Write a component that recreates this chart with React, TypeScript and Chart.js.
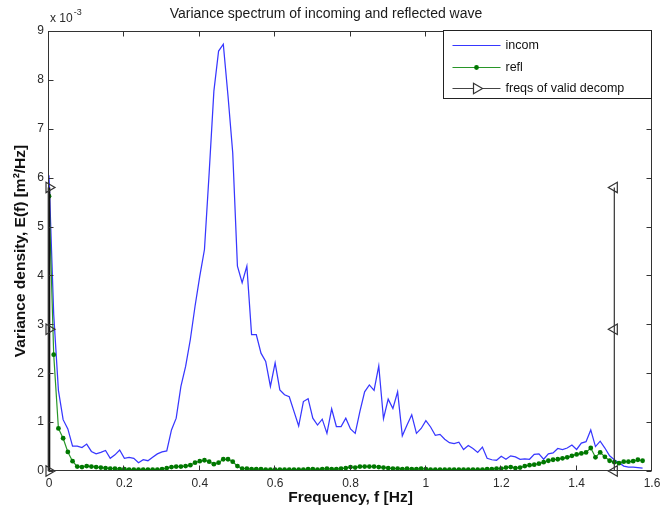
import React, { useEffect, useRef } from 'react';
import { Chart, registerables } from 'chart.js';

Chart.register(...registerables);

const FONT = '"Liberation Sans", Arial, Helvetica, sans-serif';

// Frequency bins [Hz]
const freq = [
  0, 0.0125, 0.025, 0.0375, 0.05, 0.0625, 0.075, 0.0875,
  0.1, 0.1125, 0.125, 0.1375, 0.15, 0.1625, 0.175, 0.1875,
  0.2, 0.2125, 0.225, 0.2375, 0.25, 0.2625, 0.275, 0.2875,
  0.3, 0.3125, 0.325, 0.3375, 0.35, 0.3625, 0.375, 0.3875,
  0.4, 0.4125, 0.425, 0.4375, 0.45, 0.4625, 0.475, 0.4875,
  0.5, 0.5125, 0.525, 0.5375, 0.55, 0.5625, 0.575, 0.5875,
  0.6, 0.6125, 0.625, 0.6375, 0.65, 0.6625, 0.675, 0.6875,
  0.7, 0.7125, 0.725, 0.7375, 0.75, 0.7625, 0.775, 0.7875,
  0.8, 0.8125, 0.825, 0.8375, 0.85, 0.8625, 0.875, 0.8875,
  0.9, 0.9125, 0.925, 0.9375, 0.95, 0.9625, 0.975, 0.9875,
  1.0, 1.0125, 1.025, 1.0375, 1.05, 1.0625, 1.075, 1.0875,
  1.1, 1.1125, 1.125, 1.1375, 1.15, 1.1625, 1.175, 1.1875,
  1.2, 1.2125, 1.225, 1.2375, 1.25, 1.2625, 1.275, 1.2875,
  1.3, 1.3125, 1.325, 1.3375, 1.35, 1.3625, 1.375, 1.3875,
  1.4, 1.4125, 1.425, 1.4375, 1.45, 1.4625, 1.475, 1.4875,
  1.5, 1.5125, 1.525, 1.5375, 1.55, 1.5625, 1.575,
];

// Incoming wave variance density (x 10^-3 m^2/Hz)
const incom = [
  6.05, 3.2, 1.65, 1.05, 0.86, 0.51, 0.51, 0.48,
  0.55, 0.40, 0.35, 0.38, 0.42, 0.26, 0.33, 0.43,
  0.26, 0.28, 0.26, 0.17, 0.23, 0.21, 0.28, 0.35,
  0.39, 0.41, 0.84, 1.08, 1.73, 2.14, 2.69, 3.37,
  3.98, 4.53, 6.10, 7.77, 8.59, 8.73, 7.67, 6.51,
  4.19, 3.85, 4.19, 2.79, 2.79, 2.41, 2.24, 1.73,
  2.21, 1.66, 1.56, 1.52, 1.22, 0.92, 1.42, 1.48,
  1.08, 0.94, 1.06, 0.77, 1.27, 0.91, 0.91, 1.08,
  0.86, 0.77, 1.22, 1.62, 1.76, 1.65, 2.15, 1.07,
  1.47, 1.28, 1.62, 0.72, 0.94, 1.15, 0.77, 0.87,
  1.03, 0.90, 0.73, 0.75, 0.65, 0.58, 0.56, 0.59,
  0.44, 0.52, 0.46, 0.38, 0.49, 0.26, 0.23, 0.22,
  0.30, 0.24, 0.31, 0.29, 0.24, 0.25, 0.24, 0.34,
  0.35, 0.24, 0.35, 0.37, 0.46, 0.44, 0.47, 0.53,
  0.44, 0.57, 0.60, 0.84, 0.50, 0.61, 0.47, 0.31,
  0.23, 0.17, 0.10, 0.08, 0.08, 0.07, 0.06,
];

// Reflected wave variance density (x 10^-3 m^2/Hz)
const refl = [
  5.62, 2.38, 0.87, 0.67, 0.39, 0.20, 0.09, 0.08,
  0.10, 0.09, 0.08, 0.07, 0.06, 0.05, 0.05, 0.04,
  0.04, 0.03, 0.03, 0.03, 0.03, 0.03, 0.03, 0.03,
  0.04, 0.06, 0.08, 0.09, 0.09, 0.10, 0.12, 0.17,
  0.20, 0.22, 0.19, 0.14, 0.17, 0.24, 0.24, 0.19,
  0.10, 0.05, 0.05, 0.04, 0.04, 0.04, 0.03, 0.03,
  0.03, 0.03, 0.03, 0.03, 0.03, 0.03, 0.03, 0.04,
  0.04, 0.03, 0.04, 0.05, 0.04, 0.04, 0.05, 0.06,
  0.08, 0.07, 0.09, 0.09, 0.09, 0.09, 0.08, 0.07,
  0.06, 0.05, 0.05, 0.04, 0.05, 0.04, 0.04, 0.05,
  0.04, 0.03, 0.03, 0.03, 0.03, 0.03, 0.03, 0.03,
  0.03, 0.03, 0.03, 0.03, 0.03, 0.04, 0.04, 0.05,
  0.05, 0.07, 0.08, 0.06, 0.07, 0.10, 0.12, 0.13,
  0.15, 0.18, 0.21, 0.23, 0.24, 0.26, 0.28, 0.31,
  0.34, 0.36, 0.38, 0.47, 0.28, 0.38, 0.29, 0.21,
  0.18, 0.16, 0.19, 0.19, 0.20, 0.23, 0.21,
];

// Limits of valid decomposition
const decompFreqs = [0, 1.5];
const decompLevels = [0, 2.9, 5.8];

const xTickLabels = ['0', '0.2', '0.4', '0.6', '0.8', '1', '1.2', '1.4', '1.6'];
const yTickLabels = ['0', '1', '2', '3', '4', '5', '6', '7', '8', '9'];
const legendLabels = ['incom', 'refl', 'freqs of valid decomp'];

const BLUE = 'rgb(55,55,255)';
const GREEN_LINE = 'rgb(40,150,40)';
const GREEN_DOT = 'rgb(0,120,0)';
const BLACK = '#111111';
const TICK_COLOR = '#2a2a2a';

function triangle(ctx: CanvasRenderingContext2D, x: number, y: number, r: number, dir: number) {
  ctx.beginPath();
  ctx.moveTo(x + dir * r, y);
  ctx.lineTo(x - dir * r * 0.5, y - r * 0.866);
  ctx.lineTo(x - dir * r * 0.5, y + r * 0.866);
  ctx.closePath();
  ctx.stroke();
}

const axesBox = {
  id: 'axesBox',
  afterDraw(chart: any) {
    const { ctx, chartArea: a, scales } = chart;
    const xs = scales.x;
    const ys = scales.y;
    ctx.save();
    ctx.strokeStyle = '#333333';
    ctx.lineWidth = 1;
    const L = Math.round(a.left) - 0.5;
    const R = Math.round(a.right) - 0.5;
    const T = Math.round(a.top) + 0.5;
    const B = Math.round(a.bottom) - 0.5;
    ctx.strokeRect(L, T, R - L, B - T);
    const tl = 5;
    ctx.beginPath();
    xs.ticks.forEach((t: any) => {
      const x = Math.round(xs.getPixelForValue(t.value)) - 0.5;
      ctx.moveTo(x, B);
      ctx.lineTo(x, B - tl);
      ctx.moveTo(x, T);
      ctx.lineTo(x, T + tl);
    });
    ys.ticks.forEach((t: any) => {
      const y = Math.round(ys.getPixelForValue(t.value)) + 0.5;
      ctx.moveTo(L, y);
      ctx.lineTo(L + tl, y);
      ctx.moveTo(R, y);
      ctx.lineTo(R - tl, y);
    });
    ctx.stroke();

    // exponent label
    ctx.fillStyle = TICK_COLOR;
    ctx.textBaseline = 'middle';
    ctx.textAlign = 'left';
    ctx.font = `12px ${FONT}`;
    const base = 'x 10';
    ctx.fillText(base, a.left + 1, a.top - 12);
    const w = ctx.measureText(base).width;
    ctx.font = `9px ${FONT}`;
    ctx.fillText('-3', a.left + 1 + w + 1, a.top - 18);

    // legend
    const lw = 208;
    const lh = 68;
    const lx = Math.round(a.right - lw) - 0.5;
    const ly = T - 1;
    ctx.fillStyle = '#ffffff';
    ctx.fillRect(lx, ly, lw, lh);
    ctx.strokeStyle = '#222222';
    ctx.lineWidth = 1;
    ctx.strokeRect(lx, ly, lw, lh);
    const rows = [ly + 15, ly + 37, ly + 58];
    const x0 = lx + 9;
    const x1 = lx + 57;
    const xm = (x0 + x1) / 2;
    ctx.strokeStyle = BLUE;
    ctx.lineWidth = 1.2;
    ctx.beginPath();
    ctx.moveTo(x0, rows[0]);
    ctx.lineTo(x1, rows[0]);
    ctx.stroke();
    ctx.strokeStyle = GREEN_LINE;
    ctx.beginPath();
    ctx.moveTo(x0, rows[1]);
    ctx.lineTo(x1, rows[1]);
    ctx.stroke();
    ctx.fillStyle = GREEN_DOT;
    ctx.beginPath();
    ctx.arc(xm, rows[1], 2.4, 0, Math.PI * 2);
    ctx.fill();
    ctx.strokeStyle = '#444444';
    ctx.lineWidth = 1;
    ctx.beginPath();
    ctx.moveTo(x0, rows[2]);
    ctx.lineTo(xm - 3, rows[2]);
    ctx.moveTo(xm + 6, rows[2]);
    ctx.lineTo(x1, rows[2]);
    ctx.stroke();
    ctx.strokeStyle = '#333333';
    ctx.lineWidth = 1.2;
    triangle(ctx, xm, rows[2], 6, 1);

    ctx.fillStyle = '#111111';
    ctx.font = `12.5px ${FONT}`;
    ctx.textBaseline = 'middle';
    legendLabels.forEach((lab, i) => {
      ctx.fillText(lab, lx + 62, rows[i]);
    });
    ctx.restore();
  },
};

export default function App() {
  const ref = useRef<HTMLCanvasElement | null>(null);

  useEffect(() => {
    if (!ref.current) return;
    const incomData = freq.map((f, i) => ({ x: f, y: incom[i] }));
    const reflData = freq.map((f, i) => ({ x: f, y: refl[i] }));
    const decompLeft = decompLevels.map((v) => ({ x: decompFreqs[0], y: v }));
    const decompRight = decompLevels.map((v) => ({ x: decompFreqs[1], y: v }));

    const chart = new Chart(ref.current, {
      type: 'line',
      data: {
        datasets: [
          {
            label: legendLabels[0],
            data: incomData,
            borderColor: BLUE,
            borderWidth: 1.25,
            pointRadius: 0,
            tension: 0,
            order: 3,
          },
          {
            label: legendLabels[1],
            data: reflData,
            borderColor: GREEN_LINE,
            borderWidth: 1.2,
            pointRadius: 2.4,
            pointBackgroundColor: GREEN_DOT,
            pointBorderWidth: 0,
            tension: 0,
            order: 2,
          },
          {
            label: legendLabels[2],
            data: decompLeft,
            borderColor: BLACK,
            borderWidth: 2.6,
            pointStyle: 'triangle',
            pointRotation: 90,
            pointRadius: 6,
            pointBackgroundColor: 'rgba(0,0,0,0)',
            pointBorderColor: '#333333',
            pointBorderWidth: 1.2,
            clip: false,
            order: 1,
          },
          {
            label: legendLabels[2] + ' ',
            data: decompRight,
            borderColor: '#333333',
            borderWidth: 1.2,
            pointStyle: 'triangle',
            pointRotation: -90,
            pointRadius: 6,
            pointBackgroundColor: 'rgba(0,0,0,0)',
            pointBorderColor: '#333333',
            pointBorderWidth: 1.2,
            clip: false,
            order: 1,
          },
        ] as any,
      },
      options: {
        animation: false,
        responsive: false,
        devicePixelRatio: 1,
        layout: { padding: { left: 0, right: 8, top: 0, bottom: 0 } },
        plugins: {
          legend: { display: false },
          tooltip: { enabled: false },
          title: {
            display: true,
            text: 'Variance spectrum of incoming and reflected wave',
            color: '#1a1a1a',
            font: { family: FONT, size: 14, weight: 'normal' },
            padding: { top: 6, bottom: 8.2 },
          },
        },
        scales: {
          x: {
            type: 'linear',
            min: 0,
            max: 1.6,
            grid: { display: false, drawTicks: false },
            border: { display: false },
            ticks: {
              stepSize: 0.2,
              padding: 5,
              autoSkip: false,
              maxRotation: 0,
              color: TICK_COLOR,
              font: { family: FONT, size: 12 },
              callback: (_v: any, i: number) => xTickLabels[i],
            },
            title: {
              display: true,
              text: 'Frequency, f [Hz]',
              color: '#111111',
              font: { family: FONT, size: 15.5, weight: 'bold' },
              padding: { top: 2, bottom: 4 },
            },
            afterFit: (s: any) => {
              s.height = 40;
              s.paddingLeft = 0;
              s.paddingRight = 0;
            },
          },
          y: {
            type: 'linear',
            min: 0,
            max: 9,
            grid: { display: false, drawTicks: false },
            border: { display: false },
            ticks: {
              stepSize: 1,
              padding: 5,
              color: TICK_COLOR,
              font: { family: FONT, size: 12 },
              callback: (_v: any, i: number) => yTickLabels[i],
            },
            title: {
              display: true,
              text: 'Variance density, E(f) [m\u00B2/Hz]',
              color: '#111111',
              font: { family: FONT, size: 15.5, weight: 'bold' },
              padding: { top: 11, bottom: 0 },
            },
            afterFit: (s: any) => {
              s.width = 49;
              s.paddingTop = 0;
              s.paddingBottom = 0;
            },
          },
        },
      } as any,
      plugins: [axesBox],
    });
    return () => chart.destroy();
  }, []);

  return (
    <div style={{ position: 'fixed', left: 0, top: 0, width: 660, height: 511, background: '#fff' }}>
      <canvas ref={ref} width={660} height={511} />
    </div>
  );
}
